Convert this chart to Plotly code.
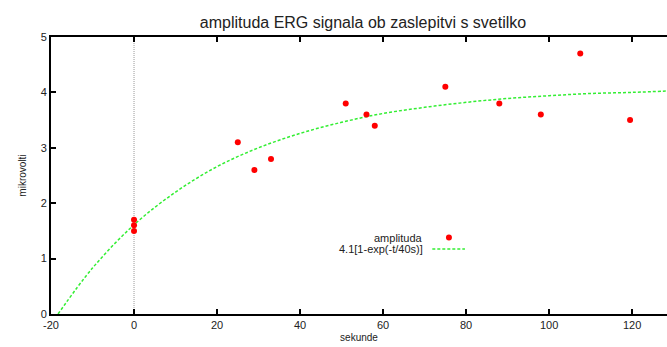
import plotly.graph_objects as go

t_meas = [0, 0, 0, 25, 29, 33, 51, 56, 58, 75, 88, 98, 107.5, 119.5]
amp_meas = [1.7, 1.6, 1.5, 3.1, 2.6, 2.8, 3.8, 3.6, 3.4, 4.1, 3.8, 3.6, 4.7, 3.5]

# Fitted curve, points
t_fit = [-18.3, -10, 0, 10, 20, 30, 40, 50, 60, 70, 80, 90, 100, 110, 120, 130]
amp_fit = [0.0, 0.83, 1.61, 2.20, 2.66, 3.00, 3.26, 3.46, 3.62, 3.73, 3.82, 3.89, 3.94, 3.98, 4.00, 4.03]

x_ticks = [-20, 0, 20, 40, 60, 80, 100, 120]
x_tick_labels = ["-20", "0", "20", "40", "60", "80", "100", "120"]
y_ticks = [0, 1, 2, 3, 4, 5]

FONT = "Liberation Sans, Arial, sans-serif"

fig = go.Figure()

# vertical dotted line at t=0
fig.add_shape(type="line", x0=0, x1=0, y0=0, y1=5, xref="x", yref="y",
              line=dict(color="#999999", width=1, dash="1px,1px"), layer="below")

fig.add_trace(go.Scatter(x=t_fit, y=amp_fit, mode="lines", line_shape="spline",
                         name="4.1[1-exp(-t/40s)]",
                         line=dict(color="#33ee33", width=1.5, dash="3px,2px"),
                         showlegend=False))
fig.add_trace(go.Scatter(x=t_meas, y=amp_meas, mode="markers",
                         name="amplituda",
                         marker=dict(color="#ff0000", size=6),
                         showlegend=False))

# gnuplot-style key: text right-aligned, sample on the right
fig.add_annotation(xref="paper", yref="paper", x=0.607, y=0.276, text="amplituda",
                   showarrow=False, xanchor="right", yanchor="middle",
                   font=dict(family=FONT, size=11, color="#222222"))
fig.add_annotation(xref="paper", yref="paper", x=0.607, y=0.235, text="4.1[1-exp(-t/40s)]",
                   showarrow=False, xanchor="right", yanchor="middle",
                   font=dict(family=FONT, size=11, color="#222222"))
fig.add_shape(type="circle", xref="paper", yref="paper", xsizemode="pixel", ysizemode="pixel",
              xanchor=0.646, yanchor=0.276, x0=-3, x1=3, y0=-3, y1=3,
              fillcolor="#ff0000", line=dict(width=0))
fig.add_shape(type="line", xref="paper", yref="paper", x0=0.619, x1=0.672, y0=0.235, y1=0.235,
              line=dict(color="#33ee33", width=1.5, dash="3px,2px"))

fig.update_layout(
    width=667, height=347,
    margin=dict(l=51, r=0, t=37, b=33),
    paper_bgcolor="white", plot_bgcolor="white",
    title=dict(text="amplituda ERG signala ob zaslepitvi s svetilko",
               x=363 / 667, xanchor="center", y=1 - 22 / 347, yanchor="middle",
               font=dict(family=FONT, size=16, color="#222222")),
    font=dict(family=FONT, size=11, color="#222222"),
    xaxis=dict(range=[-20, 128.4], tickvals=x_ticks, ticktext=x_tick_labels,
               ticks="inside", ticklen=5,
               tickwidth=2, tickcolor="black", showline=True, linecolor="black",
               linewidth=2, mirror="ticks", showgrid=False, zeroline=False,
               title=dict(text="sekunde", font=dict(size=10), standoff=4),
               tickfont=dict(size=11)),
    yaxis=dict(range=[0, 5], tickvals=y_ticks, ticks="inside", ticklen=5,
               tickwidth=2, tickcolor="black", showline=True, linecolor="black",
               linewidth=2, mirror=False, showgrid=False, zeroline=False,
               title=dict(text="mikrovolti", font=dict(size=10), standoff=12),
               tickfont=dict(size=11)),
)

fig.write_html("out.html")
